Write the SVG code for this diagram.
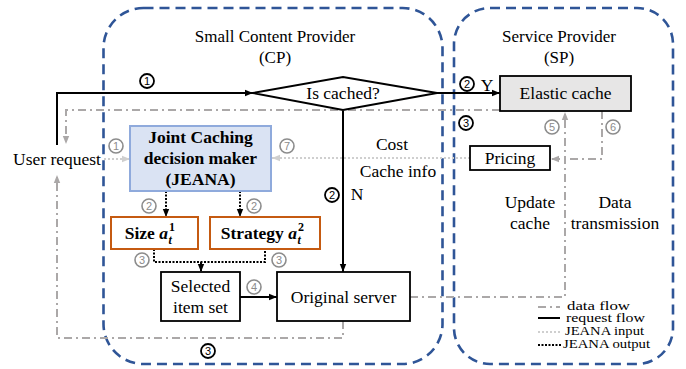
<svg xmlns="http://www.w3.org/2000/svg" width="686" height="369" viewBox="0 0 686 369">
  <style>
    text { font-family: "Liberation Serif", "Times New Roman", serif; fill: #000; }
    .t { font-size: 17.5px; text-anchor: middle; }
    .hdr { font-size: 17px; text-anchor: middle; }
    .b { font-weight: bold; }
    .zone { fill: none; stroke: #2F5597; stroke-width: 2.6; stroke-dasharray: 10 6; }
    .box { fill: #fff; stroke: #000; stroke-width: 1.8; }
    .req { fill: none; stroke: #000; stroke-width: 2; }
    .data { fill: none; stroke: #ABA8A8; stroke-width: 2; stroke-dasharray: 8 4 2 4; }
    .jin { fill: none; stroke: #CFCFCF; stroke-width: 2; stroke-dasharray: 2 2; }
    .jout { fill: none; stroke: #000; stroke-width: 2; stroke-dasharray: 2 1.5; }
    .act { fill: #fff; stroke: #C55A11; stroke-width: 2; }
    .cb circle { fill: #fff; stroke: #000; stroke-width: 1.8; }
    .cb text { font-family: "Liberation Sans", Arial, sans-serif; font-size: 11px; text-anchor: middle; }
    .cg circle { fill: #fff; stroke: #8C8C8C; stroke-width: 1.6; }
    .cg text { font-family: "Liberation Sans", Arial, sans-serif; font-size: 11px; text-anchor: middle; fill: #8C8C8C; }
    .lg { font-size: 11.5px; }
  </style>
  <defs>
    <marker id="ab" viewBox="0 0 10 10" refX="10" refY="5" markerWidth="8" markerHeight="8" orient="auto" markerUnits="userSpaceOnUse">
      <path d="M0,1 L10,5 L0,9 z" fill="#000"/>
    </marker>
    <marker id="ag" viewBox="0 0 10 10" refX="10" refY="5" markerWidth="8" markerHeight="8" orient="auto" markerUnits="userSpaceOnUse">
      <path d="M0,1 L10,5 L0,9 z" fill="#ABA8A8"/>
    </marker>
    <marker id="al" viewBox="0 0 10 10" refX="10" refY="5" markerWidth="8" markerHeight="8" orient="auto" markerUnits="userSpaceOnUse">
      <path d="M0,1 L10,5 L0,9 z" fill="#CFCFCF"/>
    </marker>
  </defs>

  <!-- provider zones -->
  <g id="cp-zone">
    <rect class="zone" x="103.5" y="8" width="339" height="356" rx="40" ry="40"/>
    <text class="hdr" x="275" y="42">Small Content Provider</text>
    <text class="hdr" x="275" y="63">(CP)</text>
  </g>
  <g id="sp-zone">
    <rect class="zone" x="454" y="8" width="219" height="356" rx="36" ry="36"/>
    <text class="hdr" x="559" y="42">Service Provider</text>
    <text class="hdr" x="559" y="63">(SP)</text>
  </g>

  <!-- connectors -->
  <g id="connectors">
    <!-- request flow -->
    <path class="req" d="M57,145 V93 H253" marker-end="url(#ab)"/>
    <path class="req" d="M437,93 H500" marker-end="url(#ab)"/>
    <path class="req" d="M343,110 V272" marker-end="url(#ab)"/>
    <path class="req" d="M240,297 H277" marker-end="url(#ab)"/>
    <!-- data flow -->
    <path class="data" d="M500,110 H66 V144" marker-end="url(#ag)"/>
    <path class="data" d="M410,297 H565 V112" marker-end="url(#ag)"/>
    <path class="data" d="M602,111 V159 H551" marker-end="url(#ag)"/>
    <path class="data" d="M343,321 V338 H57 V175" marker-end="url(#ag)"/>
    <!-- JEANA input -->
    <path class="jin" d="M470,158 H272" marker-end="url(#al)"/>
    <path class="jin" d="M104,159 H130" marker-end="url(#al)"/>
    <!-- JEANA output -->
    <path class="jout" d="M166,191 V217" marker-end="url(#ab)"/>
    <path class="jout" d="M240,191 V217" marker-end="url(#ab)"/>
    <path class="jout" d="M154,249 V262 H265 V249"/>
    <path class="jout" d="M201,262 V272" marker-end="url(#ab)"/>
  </g>

  <!-- nodes -->
  <g id="user-request">
    <text class="t" x="57" y="165">User request</text>
  </g>
  <g id="is-cached">
    <polygon points="253,93 343,77 437,93 343,110" fill="#fff" stroke="#000" stroke-width="2"/>
    <text class="t" x="343" y="99">Is cached?</text>
  </g>
  <g id="elastic-cache">
    <rect x="500" y="76" width="131" height="35" fill="#E7E6E6" stroke="#000" stroke-width="1.8"/>
    <text class="t" x="565.5" y="99">Elastic cache</text>
  </g>
  <g id="pricing">
    <rect class="box" x="470" y="146" width="80" height="24"/>
    <text class="t" x="510" y="164">Pricing</text>
  </g>
  <g id="jeana">
    <rect x="130" y="126" width="141" height="65" fill="#DAE3F3" stroke="#8FAADC" stroke-width="2"/>
    <text class="t b" x="200.5" y="143">Joint Caching</text>
    <text class="t b" x="200.5" y="164">decision maker</text>
    <text class="t b" x="200.5" y="185">(JEANA)</text>
  </g>
  <g id="size">
    <rect class="act" x="111" y="217" width="87" height="32"/>
    <text class="b" x="168" y="239" font-size="17.5" text-anchor="end">Size <tspan font-style="italic">a</tspan></text>
    <text class="b" x="169" y="231" font-size="12">1</text>
    <text class="b" x="168.5" y="244" font-size="12" font-style="italic">t</text>
  </g>
  <g id="strategy">
    <rect class="act" x="210" y="217" width="110" height="32"/>
    <text class="b" x="297" y="239" font-size="17.5" text-anchor="end">Strategy <tspan font-style="italic">a</tspan></text>
    <text class="b" x="298" y="231" font-size="12">2</text>
    <text class="b" x="297.5" y="244" font-size="12" font-style="italic">t</text>
  </g>
  <g id="selected-item-set">
    <rect class="box" x="161" y="272" width="79" height="49"/>
    <text class="t" x="200.5" y="292">Selected</text>
    <text class="t" x="200.5" y="313">item set</text>
  </g>
  <g id="original-server">
    <rect class="box" x="277" y="272" width="133" height="49"/>
    <text class="t" x="343.5" y="303">Original server</text>
  </g>

  <!-- connector labels -->
  <g id="labels">
    <text class="t" x="487" y="91">Y</text>
    <text class="t" x="357" y="200">N</text>
    <text class="t" x="392" y="150">Cost</text>
    <text class="t" x="398" y="177">Cache info</text>
    <text class="t" x="530" y="208">Update</text>
    <text class="t" x="530" y="229">cache</text>
    <text class="t" x="615" y="208">Data</text>
    <text class="t" x="615" y="229">transmission</text>
  </g>

  <!-- step markers -->
  <g id="steps-request" class="cb">
    <circle cx="147" cy="81" r="7"/><text x="147" y="85">1</text>
    <circle cx="467" cy="84" r="7"/><text x="467" y="88">2</text>
    <circle cx="466" cy="123" r="7"/><text x="466" y="127">3</text>
    <circle cx="332" cy="195" r="7"/><text x="332" y="199">2</text>
    <circle cx="208" cy="351" r="7"/><text x="208" y="355">3</text>
  </g>
  <g id="steps-jeana" class="cg">
    <circle cx="116" cy="146" r="7"/><text x="116" y="150">1</text>
    <circle cx="287" cy="146" r="7"/><text x="287" y="150">7</text>
    <circle cx="552" cy="127" r="7"/><text x="552" y="131">5</text>
    <circle cx="613" cy="127" r="7"/><text x="613" y="131">6</text>
    <circle cx="149" cy="206" r="7"/><text x="149" y="210">2</text>
    <circle cx="254" cy="206" r="7"/><text x="254" y="210">2</text>
    <circle cx="142" cy="260" r="7"/><text x="142" y="264">3</text>
    <circle cx="279" cy="260" r="7"/><text x="279" y="264">3</text>
    <circle cx="254" cy="287" r="7"/><text x="254" y="291">4</text>
  </g>

  <!-- legend -->
  <g id="legend">
    <line class="data" x1="538" y1="307" x2="560" y2="307"/>
    <text class="lg" x="567" y="310" textLength="63" lengthAdjust="spacingAndGlyphs">data flow</text>
    <line x1="538" y1="318" x2="560" y2="318" stroke="#000" stroke-width="2"/>
    <text class="lg" x="566" y="322" textLength="79" lengthAdjust="spacingAndGlyphs">request flow</text>
    <line class="jin" x1="538" y1="332" x2="560" y2="332"/>
    <text class="lg" x="565" y="335" textLength="79" lengthAdjust="spacingAndGlyphs">JEANA input</text>
    <line class="jout" x1="538" y1="345" x2="562" y2="345"/>
    <text class="lg" x="563" y="348" textLength="87" lengthAdjust="spacingAndGlyphs">JEANA output</text>
  </g>
</svg>
